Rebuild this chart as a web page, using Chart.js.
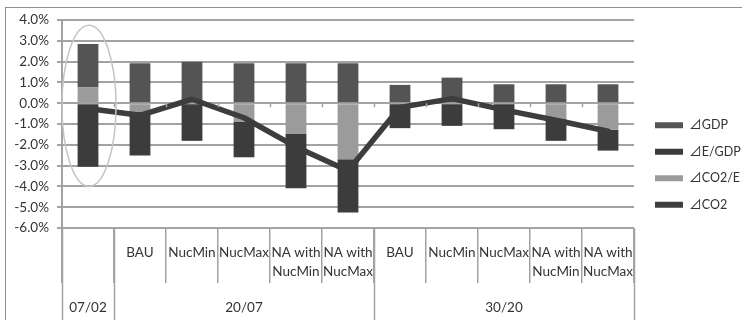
<!DOCTYPE html>
<html>
<head>
<meta charset="utf-8">
<script src="https://cdn.jsdelivr.net/npm/chart.js@4.4.1/dist/chart.umd.min.js"></script>
<style>
    html, body { margin: 0; padding: 0; background: #fff; }
    #wrap { width: 742px; height: 320px; }
</style>
</head>
<body>
<div id="wrap"><canvas id="chart"></canvas></div>
<script>
const scenarios = ['', 'BAU', 'NucMin', 'NucMax', 'NA with NucMin', 'NA with NucMax',
                   'BAU', 'NucMin', 'NucMax', 'NA with NucMin', 'NA with NucMax'];
const periods = ['07/02', '20/07', '30/20'];
const periodSpans = [1, 5, 5];

// values in %
const dGDP  = [2.08, 1.92, 1.99, 1.92, 1.92, 1.92, 0.88, 1.23, 0.91, 0.91, 0.91];
const dEGDP = [-3.05, -2.12, -1.81, -1.72, -2.61, -2.57, -1.20, -1.09, -1.25, -1.04, -1.00];
const dCO2E = [0.77, -0.40, 0, -0.88, -1.48, -2.69, 0, 0, 0, -0.77, -1.28];
const dCO2  = [-0.25, -0.58, 0.19, -0.70, -2.10, -3.25, -0.20, 0.22, -0.32, -0.82, -1.35];

const yMin = -6, yMax = 4;

const gridColor = '#a3a3a3';
const textColor = '#333333';
const fontFamily = "Lato, 'DejaVu Sans', sans-serif";
const legendFont = "Lato, 'Noto Sans CJK JP', sans-serif";
const legendOrder = [2, 1, 0, 3]; // GDP, E/GDP, CO2/E, CO2

// x labels: split the long ones onto two lines
const xLabels = scenarios.map(s => s.startsWith('NA with ') ? ['NA with', s.slice(8)] : s);

const tablePlugin = {
    id: 'tableAxis',
    afterLayout(chart) {
        const lg = chart.legend;
        lg.left += 7; lg.right += 7;
        lg.top -= 5; lg.bottom -= 5;
    },
    beforeDraw(chart) {
        const ctx = chart.ctx;
        ctx.save();
        ctx.fillStyle = '#fff';
        ctx.fillRect(0, 0, chart.width, chart.height);
        ctx.restore();
    },
    afterDatasetsDraw(chart) {
        // grey ellipse around the 07/02 column
        const {ctx, scales: {x, y}} = chart;
        const half = (x.getPixelForValue(1) - x.getPixelForValue(0)) / 2;
        const cx = x.getPixelForValue(0);
        const top = y.getPixelForValue(3.75), bot = y.getPixelForValue(-4.0);
        ctx.save();
        ctx.strokeStyle = '#c4c4c4';
        ctx.lineWidth = 1.5;
        ctx.beginPath();
        ctx.ellipse(cx + 1, (top + bot) / 2, half * 1.04, (bot - top) / 2, 0, 0, Math.PI * 2);
        ctx.stroke();
        ctx.restore();
    },
    afterDraw(chart) {
        const {ctx, chartArea, scales: {x, y}} = chart;
        const half = (x.getPixelForValue(1) - x.getPixelForValue(0)) / 2;
        const edge = i => i < scenarios.length ? x.getPixelForValue(i) - half : x.getPixelForValue(i - 1) + half;
        const y0 = y.getPixelForValue(0);
        ctx.save();
        ctx.strokeStyle = gridColor;
        ctx.lineWidth = 1.5;
        ctx.beginPath();
        // small tick marks on the zero line
        for (let i = 1; i < scenarios.length; i++) {
            const bx = Math.round(edge(i)) + 0.5;
            ctx.moveTo(bx, y0);
            ctx.lineTo(bx, y0 + 4);
        }
        // full-height period dividers
        let acc = 0;
        const bounds = [0];
        periodSpans.forEach(s => { acc += s; bounds.push(acc); });
        bounds.forEach(b => {
            const bx = Math.round(edge(b)) + 0.5;
            ctx.moveTo(bx, chartArea.bottom);
            ctx.lineTo(bx, chart.height);
        });
        ctx.stroke();

        // period labels
        ctx.fillStyle = textColor;
        ctx.font = "13.5px " + fontFamily;
        ctx.textAlign = 'center';
        ctx.textBaseline = 'middle';
        for (let p = 0; p < periods.length; p++) {
            const cx = (edge(bounds[p]) + edge(bounds[p + 1])) / 2;
            ctx.fillText(periods[p], cx, chartArea.bottom + 80);
        }

        // outer frame
        ctx.strokeStyle = '#8f8f8f';
        ctx.lineWidth = 1;
        ctx.strokeRect(5.5, 7.5, chart.width + 20, chart.height + 20);
        ctx.restore();
    }
};

const ctx = document.getElementById('chart').getContext('2d');
new Chart(ctx, {
    type: 'bar',
    data: {
        labels: xLabels,
        datasets: [
            { label: '⊿CO2/E', data: dCO2E, backgroundColor: '#9b9b9b', order: 1 },
            { label: '⊿E/GDP', data: dEGDP, backgroundColor: '#3c3c3c', order: 1 },
            { label: '⊿GDP', data: dGDP, backgroundColor: '#545454', order: 1 },
            {
                type: 'line', label: '⊿CO2', data: dCO2, stack: 'co2',
                borderColor: '#3d3d3d', backgroundColor: '#3d3d3d',
                borderWidth: 5.5, pointRadius: 0, tension: 0,
                borderJoinStyle: 'round', borderCapStyle: 'round', order: 0
            }
        ]
    },
    options: {
        responsive: true,
        maintainAspectRatio: false,
        animation: false,
        layout: { padding: { top: 20, left: 5, right: 8, bottom: 0 } },
        datasets: { bar: { categoryPercentage: 0.4, barPercentage: 1 } },
        plugins: {
            tooltip: { enabled: false },
            legend: {
                position: 'right',
                maxWidth: 100,
                labels: {
                    boxWidth: 28,
                    boxHeight: 6,
                    padding: 14,
                    color: textColor,
                    font: { family: legendFont, size: 12.5 },
                    sort: (a, b) => legendOrder.indexOf(a.datasetIndex) - legendOrder.indexOf(b.datasetIndex),
                    generateLabels: chart => Chart.defaults.plugins.legend.labels.generateLabels(chart)
                        .map(item => { item.lineWidth = 0; return item; })
                }
            }
        },
        scales: {
            x: {
                stacked: true,
                offset: true,
                grid: { offset: true, drawOnChartArea: false, drawTicks: true, tickLength: 55, color: gridColor, lineWidth: 1.5 },
                border: { display: false },
                ticks: {
                    autoSkip: false, maxRotation: 0, minRotation: 0, padding: -39.5,
                    color: textColor,
                    font: { family: fontFamily, size: 13.5, lineHeight: 1.4 }
                },
                afterFit(s) { s.height = 92; }
            },
            y: {
                stacked: true,
                min: yMin, max: yMax,
                ticks: {
                    stepSize: 1, padding: 8, color: textColor,
                    font: { family: fontFamily, size: 13.5 },
                    callback: v => v.toFixed(1) + '%'
                },
                grid: { color: gridColor, lineWidth: 2, tickLength: 5 },
                border: { display: true, color: gridColor, width: 2 },
                afterFit(s) { s.width = 57; }
            }
        }
    },
    plugins: [tablePlugin]
});
</script>
</body>
</html>
